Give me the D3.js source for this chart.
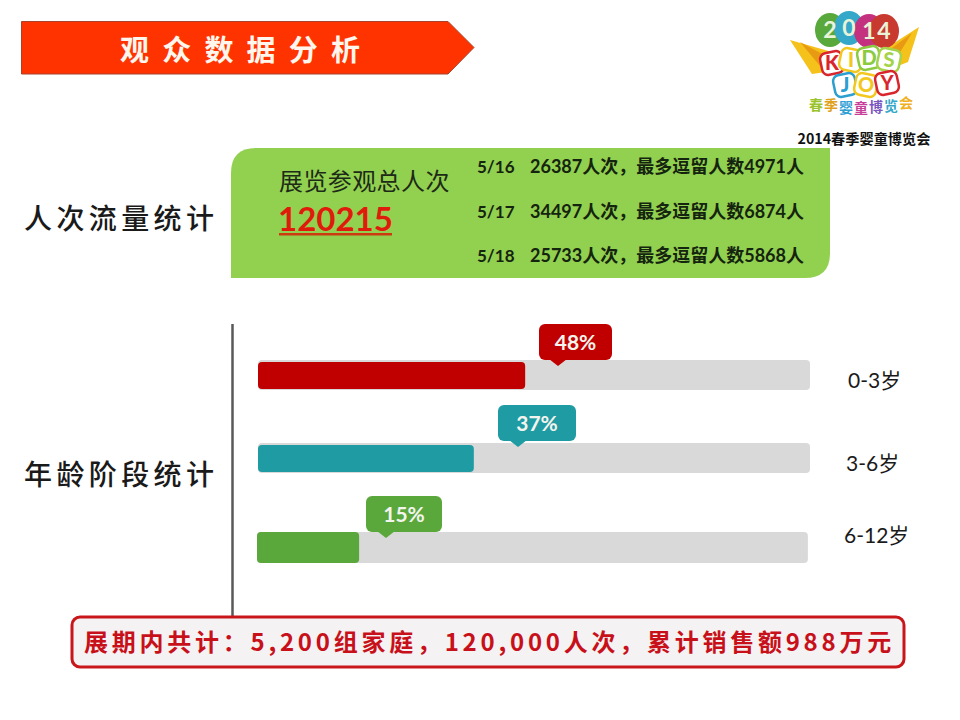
<!DOCTYPE html>
<html>
<head>
<meta charset="utf-8" />
<title>观众数据分析</title>
<script src="https://d3js.org/d3.v7.min.js"></script>
<style>
    html, body { margin: 0; padding: 0; background: #fff; }
    svg { display: block; }
    text { font-family: Lato, "Noto Sans CJK SC", sans-serif; }
</style>
</head>
<body>
<script>
    // data
    var ageGroups = ['0-3岁', '3-6岁', '6-12岁'];
    var agePercentLabels = ['48%', '37%', '15%'];
    // drawn bar lengths in the reference are a bit longer than the printed labels
    var ageBarLengths = [48.4, 39.1, 18.5];
    var ageTrackLengths = [100, 100, 99.8];
    var ageColors = ['#c00000', '#1f9ba3', '#5aa83c'];
    var days = ['5/16', '5/17', '5/18'];
    var dayVisits = [26387, 34497, 25733];
    var dayPeak = [4971, 6874, 5868];
    var totalVisits = '120215';

    var width = 960, height = 720;
    var cjk = '"Noto Sans CJK SC", sans-serif';

    var svg = d3.select('body').append('svg')
        .attr('width', width)
        .attr('height', height);

    function label(g, x, y, str, size, fill, opts) {
        opts = opts || {};
        return g.append('text')
            .attr('x', x).attr('y', y)
            .attr('font-size', size)
            .attr('fill', fill)
            .attr('font-weight', opts.weight || 400)
            .attr('text-anchor', opts.anchor || 'start')
            .style('letter-spacing', opts.spacing || null)
            .style('font-family', opts.family || null)
            .text(str);
    }

    // title arrow
    svg.append('path')
        .attr('d', 'M21.5,21.5 H448 L474,47.5 L448,74 H21.5 Z')
        .attr('fill', '#ff3300')
        .attr('stroke', '#a8432e')
        .attr('stroke-width', 1);
    label(svg, 120, 61, '观众数据分析', 29, '#fff7ee', { weight: 700, spacing: '13.2px', family: cjk });

    // left section headings
    label(svg, 24, 229, '人次流量统计', 28, '#1a1a1a', { weight: 500, spacing: '4.4px', family: cjk });
    label(svg, 24, 485, '年龄阶段统计', 28, '#1a1a1a', { weight: 500, spacing: '4.4px', family: cjk });

    // green panel
    svg.append('path')
        .attr('d', 'M231,278 V173 Q231,148 256,148 H830 V253 Q830,278 805,278 Z')
        .attr('fill', '#92d050');
    label(svg, 279, 190, '展览参观总人次', 24, '#1c2a17', { family: cjk, spacing: '0.4px' });
    label(svg, 278, 231, totalVisits, 33, '#e01b0c', { weight: 700 });
    svg.append('rect').attr('x', 279).attr('y', 233).attr('width', 113).attr('height', 2.5).attr('fill', '#cc3a10');

    var dayY = d3.scalePoint().domain(days).range([173, 262]);
    days.forEach(function (d, i) {
        var y = dayY(d);
        label(svg, 477, y, d, 17, '#14240f', { weight: 700 });
        label(svg, 530, y, dayVisits[i] + '人次，最多逗留人数' + dayPeak[i] + '人', 18, '#14240f', { weight: 700 });
    });

    // vertical rule
    svg.append('line')
        .attr('x1', 232.5).attr('x2', 232.5)
        .attr('y1', 324).attr('y2', 618)
        .attr('stroke', '#595959')
        .attr('stroke-width', 2.5);

    // age bars
    var x = d3.scaleLinear().domain([0, 100]).range([0, 552]);
    var rowX = [258, 258, 257];
    var rowY = [360, 443, 532];
    var rowH = [30, 30, 31];
    var bubbleX = [539, 498, 366];
    var bubbleW = [73, 78, 76];
    var bubbleY = [324, 405, 496];
    var tipX = [558, 518, 386];
    var labelPos = [[848, 388], [846, 471], [844, 543]];

    var rows = svg.selectAll('g.row').data(ageGroups).enter().append('g').attr('class', 'row');

    rows.append('rect')
        .attr('x', function (d, i) { return rowX[i]; })
        .attr('y', function (d, i) { return rowY[i]; })
        .attr('width', function (d, i) { return x(ageTrackLengths[i]); })
        .attr('height', function (d, i) { return rowH[i]; })
        .attr('rx', 4)
        .attr('fill', '#d9d9d9');

    rows.append('rect')
        .attr('x', function (d, i) { return rowX[i]; })
        .attr('y', function (d, i) { return rowY[i] + (i < 2 ? 2 : 0); })
        .attr('width', function (d, i) { return x(ageBarLengths[i]); })
        .attr('height', function (d, i) { return rowH[i] - (i < 2 ? 3 : 0); })
        .attr('rx', 4)
        .attr('fill', function (d, i) { return ageColors[i]; });

    // bubbles with percent
    rows.append('rect')
        .attr('x', function (d, i) { return bubbleX[i]; })
        .attr('y', function (d, i) { return bubbleY[i]; })
        .attr('width', function (d, i) { return bubbleW[i]; })
        .attr('height', 36)
        .attr('rx', 6)
        .attr('fill', function (d, i) { return ageColors[i]; });

    rows.append('path')
        .attr('d', function (d, i) {
            var b = bubbleY[i] + 35;
            return 'M' + (tipX[i] - 9) + ',' + b + ' L' + tipX[i] + ',' + (b + 7) + ' L' + (tipX[i] + 9) + ',' + b + ' Z';
        })
        .attr('fill', function (d, i) { return ageColors[i]; });

    rows.append('text')
        .attr('x', function (d, i) { return bubbleX[i] + bubbleW[i] / 2; })
        .attr('y', function (d, i) { return bubbleY[i] + 26; })
        .attr('text-anchor', 'middle')
        .attr('font-size', 21)
        .attr('font-weight', 700)
        .attr('fill', '#f4f4ee')
        .text(function (d, i) { return agePercentLabels[i]; });

    rows.append('text')
        .attr('x', function (d, i) { return labelPos[i][0]; })
        .attr('y', function (d, i) { return labelPos[i][1]; })
        .attr('font-size', 21)
        .attr('fill', '#1a1a1a')
        .text(function (d) { return d; });

    // bottom summary box
    svg.append('rect')
        .attr('x', 72).attr('y', 617)
        .attr('width', 832).attr('height', 50)
        .attr('rx', 8)
        .attr('fill', '#f4f2f2')
        .attr('stroke', '#c9161a')
        .attr('stroke-width', 3);
    label(svg, 84, 651, '展期内共计：5,200组家庭，120,000人次，累计销售额988万元', 24, '#c8101a',
        { weight: 700, spacing: '3.75px', family: cjk });

    // logo, hand drawn from simple shapes
    var logo = svg.append('g').attr('class', 'logo');
    logo.append('path').attr('d', 'M790,40 L832,52 L826,72 L812,74 Z').attr('fill', '#f5c21b');
    logo.append('path').attr('d', 'M919,27 L880,52 L888,70 L908,62 Z').attr('fill', '#f5c21b');
    logo.append('path').attr('d', 'M800,42 L830,58 L820,66 Z').attr('fill', '#e89b12');
    logo.append('path').attr('d', 'M912,33 L884,54 L894,62 Z').attr('fill', '#e89b12');

    var balloonCx = [830, 849, 869, 884];
    var balloonCy = [30, 28, 31, 31];
    var balloonC = ['#58a83c', '#35a7c9', '#c4317f', '#c8392f'];
    var balloonT = ['2', '0', '1', '4'];
    logo.selectAll('ellipse').data(balloonT).enter().append('ellipse')
        .attr('cx', function (d, i) { return balloonCx[i]; })
        .attr('cy', function (d, i) { return balloonCy[i]; })
        .attr('rx', 15).attr('ry', 17)
        .attr('fill', function (d, i) { return balloonC[i]; });
    logo.selectAll('text.b').data(balloonT).enter().append('text')
        .attr('class', 'b')
        .attr('x', function (d, i) { return balloonCx[i]; })
        .attr('y', function (d, i) { return balloonCy[i] + 8; })
        .attr('text-anchor', 'middle')
        .attr('font-size', 23).attr('font-weight', 700)
        .attr('fill', '#e8f4d8')
        .text(function (d) { return d; });

    var tileText = ['K', 'I', 'D', 'S', 'J', 'O', 'Y'];
    var tileX = [832, 851, 869, 889, 845, 866, 887];
    var tileY = [63, 60, 58, 60, 85, 85, 83];
    var tileC = ['#d9262e', '#f2c81f', '#8ccb3f', '#a5d34a', '#2b9fd0', '#f2c81f', '#d9262e'];
    logo.selectAll('rect.t').data(tileText).enter().append('rect')
        .attr('class', 't')
        .attr('x', function (d, i) { return tileX[i] - 11; })
        .attr('y', function (d, i) { return tileY[i] - 11; })
        .attr('width', 22).attr('height', 22).attr('rx', 6)
        .attr('fill', '#fff').attr('stroke', function (d, i) { return tileC[i]; }).attr('stroke-width', 2.5)
        .attr('transform', function (d, i) { return 'rotate(' + (i % 2 ? 12 : -12) + ',' + tileX[i] + ',' + tileY[i] + ')'; });
    logo.selectAll('text.t').data(tileText).enter().append('text')
        .attr('class', 't')
        .attr('x', function (d, i) { return tileX[i]; })
        .attr('y', function (d, i) { return tileY[i] + 7; })
        .attr('text-anchor', 'middle')
        .attr('font-size', 20).attr('font-weight', 900)
        .attr('fill', function (d, i) { return tileC[i]; })
        .text(function (d) { return d; });

    var expoChars = ['春', '季', '婴', '童', '博', '览', '会'];
    var expoX = [816, 831, 846, 861, 876, 891, 906];
    var expoY = [110, 110, 113, 113, 112, 111, 108];
    var expoC = ['#9bc42c', '#e0a21c', '#2f9fd4', '#c83f9a', '#7a56c0', '#35a7c9', '#f0b020'];
    logo.selectAll('text.e').data(expoChars).enter().append('text')
        .attr('class', 'e')
        .attr('x', function (d, i) { return expoX[i]; })
        .attr('y', function (d, i) { return expoY[i]; })
        .attr('text-anchor', 'middle')
        .attr('font-size', 14).attr('font-weight', 700)
        .style('font-family', cjk)
        .attr('fill', function (d, i) { return expoC[i]; })
        .text(function (d) { return d; });

    label(svg, 864, 144, '2014春季婴童博览会', 14.2, '#111', { weight: 700, anchor: 'middle', family: cjk });
</script>
</body>
</html>
